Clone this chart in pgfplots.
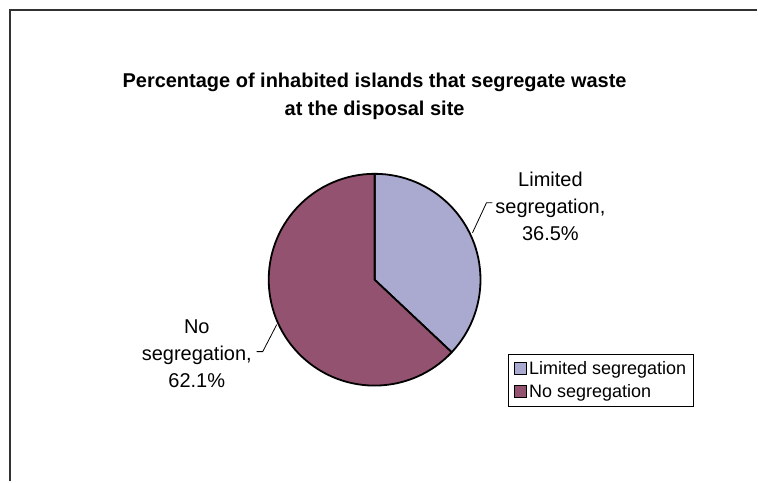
\documentclass[border=0pt]{standalone}
\usepackage{pgfplots}
\usepackage{pgfplotstable}
\pgfplotsset{compat=1.18}
\usepackage{fontspec}
\setmainfont{Liberation Sans}
\definecolor{limited}{RGB}{170,169,207}
\definecolor{nosegr}{RGB}{147,82,112}
\definecolor{frame}{RGB}{50,50,50}

\pgfplotstableread{
label value
Limited 36.5
No 62.1
}\piedata

\begin{document}
\begin{tikzpicture}
\pgfplotstablegetelem{0}{value}\of\piedata \let\va\pgfplotsretval
\pgfplotstablegetelem{1}{value}\of\piedata \let\vb\pgfplotsretval
\pgfmathsetmacro{\tot}{\va+\vb}
\pgfmathsetmacro{\aend}{90-360*\va/\tot}
\def\cx{375}\def\cy{202}\def\rr{106}
\begin{axis}[
  width=758pt, height=482pt, scale only axis,
  xmin=0, xmax=758, ymin=0, ymax=482,
  hide axis, clip=false,
  legend image code/.code={\draw[#1, line width=1.4pt] (0pt,-6pt) rectangle (12pt,6pt);},
  legend style={at={(0.6715,0.2656)}, anchor=north west, draw=black, line width=0.8pt,
    font=\fontsize{18}{21}\selectfont, inner xsep=5pt, inner ysep=5pt, row sep=5pt,
    cells={anchor=west}},
]
\addlegendimage{fill=limited, draw=black}
\addlegendentry{Limited segregation}
\addlegendimage{fill=nosegr, draw=black}
\addlegendentry{No segregation}
% canvas
\path (axis cs:0,0) rectangle (axis cs:758,482);
% frame
\draw[frame, line width=1.6pt] (axis cs:10,0) -- (axis cs:10,472) -- (axis cs:758,472);
% slices
\filldraw[fill=limited, draw=black, line width=1.8pt, line join=round]
  (axis cs:\cx,\cy) -- (axis cs:\cx,{\cy+\rr}) arc[start angle=90, end angle=\aend, radius=\rr] -- cycle;
\filldraw[fill=nosegr, draw=black, line width=1.8pt, line join=round]
  (axis cs:\cx,\cy) -- (axis cs:{\cx+\rr*cos(\aend)},{\cy+\rr*sin(\aend)}) arc[start angle=\aend, end angle=-270, radius=\rr] -- cycle;
% title
\node[align=center, font=\bfseries\fontsize{20}{28}\selectfont] at (axis cs:375,386)
  {Percentage of inhabited islands that segregate waste\\at the disposal site};
% data labels
\node[align=center, font=\fontsize{20}{27}\selectfont] at (axis cs:551,275)
  {Limited\\segregation,\\\pgfmathprintnumber[fixed,precision=1,fixed zerofill,assume math mode=true]{\va}\%};
\node[align=center, font=\fontsize{20}{27}\selectfont] at (axis cs:197,128)
  {No\\segregation,\\\pgfmathprintnumber[fixed,precision=1,fixed zerofill,assume math mode=true]{\vb}\%};
% leader lines
\draw[black, line width=0.8pt] (axis cs:493,279) -- (axis cs:487,279) -- (axis cs:473,249);
\draw[black, line width=0.8pt] (axis cs:257,130) -- (axis cs:263,130) -- (axis cs:277,157);
\end{axis}
\end{tikzpicture}
\end{document}
